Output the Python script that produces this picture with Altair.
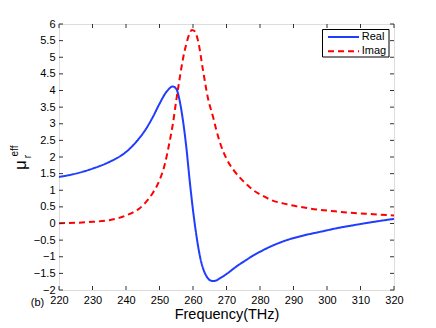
import altair as alt
import pandas as pd

# ---- data ----
freq_real = [220, 225, 230, 235, 240, 243, 246, 248, 250, 252, 254, 255, 256, 257,
             258, 259, 260, 261, 262, 263, 264, 265, 266, 267, 268, 270, 273, 276,
             278, 280, 283, 288, 293, 298, 303, 308, 314, 320]
mu_real = [1.40, 1.50, 1.65, 1.85, 2.15, 2.45, 2.85, 3.20, 3.60, 3.95, 4.12, 4.05,
           3.70, 3.10, 2.30, 1.30, 0.40, -0.35, -0.95, -1.35, -1.58, -1.70, -1.73,
           -1.71, -1.65, -1.52, -1.29, -1.09, -0.96, -0.85, -0.70, -0.50, -0.36,
           -0.25, -0.14, -0.05, 0.05, 0.14]

freq_imag = [220, 225, 230, 235, 238, 240, 242, 244, 246, 248, 250, 251.5, 253, 254,
             255, 256, 257, 258, 259, 259.7, 260.5, 261.5, 263, 264.5, 266, 267, 268,
             270, 272, 274, 276, 278, 280, 283, 288, 295, 303, 312, 320]
mu_imag = [0.01, 0.02, 0.05, 0.10, 0.17, 0.24, 0.33, 0.45, 0.65, 0.92, 1.30, 1.75,
           2.45, 3.00, 3.70, 4.35, 4.95, 5.40, 5.72, 5.82, 5.78, 5.50, 4.60, 3.75,
           3.20, 2.80, 2.45, 1.95, 1.62, 1.38, 1.18, 1.00, 0.88, 0.72, 0.58, 0.45,
           0.36, 0.29, 0.24]

series_names = ["Real", "Imag"]
series_colors = ["#1f3cff", "#ff0000"]
series_dashes = [[1, 0], [6, 4]]
x_ticks = [220, 230, 240, 250, 260, 270, 280, 290, 300, 310, 320]
y_ticks = [-2, -1.5, -1, -0.5, 0, 0.5, 1, 1.5, 2, 2.5, 3, 3.5, 4, 4.5, 5, 5.5, 6]

W, H = 335, 266
FONT = "Liberation Sans"

df = pd.concat([
    pd.DataFrame({"freq": freq_real, "mu": mu_real, "series": "Real", "order": range(len(freq_real))}),
    pd.DataFrame({"freq": freq_imag, "mu": mu_imag, "series": "Imag", "order": range(len(freq_imag))}),
])

xs = alt.Scale(domain=[220, 320], nice=False, zero=False)
ys = alt.Scale(domain=[-2, 6], nice=False, zero=False)

x_axis = alt.Axis(values=x_ticks, title="Frequency(THz)", ticks=False, domain=False,
                  grid=False, labelFont=FONT, labelFontSize=11, labelOverlap=False,
                  labelFlush=False, labelColor="black", labelPadding=4, titleFont=FONT,
                  titleFontSize=14.5, titleFontWeight="normal", titleColor="black",
                  titlePadding=2, format="d")
y_axis = alt.Axis(values=y_ticks, title=None, ticks=False, domain=False, grid=False,
                  labelFont=FONT, labelFontSize=11, labelColor="black", labelFlush=False,
                  labelOverlap=False, labelPadding=4, format=".2~g")

lines = alt.Chart(df).mark_line(strokeWidth=2, interpolate="monotone").encode(
    x=alt.X("freq:Q", scale=xs, axis=x_axis),
    y=alt.Y("mu:Q", scale=ys, axis=y_axis),
    color=alt.Color("series:N", scale=alt.Scale(domain=series_names, range=series_colors),
                    legend=None),
    strokeDash=alt.StrokeDash("series:N", scale=alt.Scale(domain=series_names, range=series_dashes),
                              legend=None),
    order="order:Q",
)

xt = pd.DataFrame({"freq": x_ticks})
yt = pd.DataFrame({"mu": y_ticks})
tick_col = "#333333"
xb = alt.Chart(xt).mark_rule(color=tick_col, strokeWidth=1).encode(
    x=alt.X("freq:Q", scale=xs, axis=x_axis), y=alt.value(H), y2=alt.value(H - 4))
xtop = alt.Chart(xt).mark_rule(color=tick_col, strokeWidth=1).encode(
    x=alt.X("freq:Q", scale=xs, axis=x_axis), y=alt.value(0), y2=alt.value(4))
yl = alt.Chart(yt).mark_rule(color=tick_col, strokeWidth=1).encode(
    y=alt.Y("mu:Q", scale=ys, axis=y_axis), x=alt.value(0), x2=alt.value(4))
yr = alt.Chart(yt).mark_rule(color=tick_col, strokeWidth=1).encode(
    y=alt.Y("mu:Q", scale=ys, axis=y_axis), x=alt.value(W), x2=alt.value(W - 4))

def label(txt, x, y, size, angle=270, baseline="alphabetic", align="center"):
    return alt.Chart(pd.DataFrame({"t": [txt]})).mark_text(
        font=FONT, fontSize=size, color="black", angle=angle,
        align=align, baseline=baseline,
    ).encode(text="t:N", x=alt.value(x), y=alt.value(y))

mu_lbl = label("μ", -33, 141, 17)
r_lbl = label("r", -28, 132.5, 10)
eff_lbl = label("eff", -41, 127, 10)
b_lbl = label("(b)", -21.5, 278.5, 11, angle=0, baseline="middle")

# ---- legend box (drawn by hand, MATLAB style) ----
leg_layers = [
    alt.Chart(pd.DataFrame({"a": [0]})).mark_rect(fill="white", stroke="black", strokeWidth=1).encode(
        x=alt.value(263.5), x2=alt.value(330), y=alt.value(5.5), y2=alt.value(33))
]
row_y = [13, 27.3]
for name, col, dash, ry in zip(series_names, series_colors, series_dashes, row_y):
    leg_layers.append(
        alt.Chart(pd.DataFrame({"s": [name]})).mark_rule(color=col, strokeWidth=2, strokeDash=dash).encode(
            x=alt.value(269), x2=alt.value(300), y=alt.value(ry)))
    leg_layers.append(label(name, 302.7, ry, 11, angle=0, baseline="middle", align="left"))

chart = alt.layer(lines, xb, xtop, yl, yr, mu_lbl, r_lbl, eff_lbl, b_lbl, *leg_layers).properties(
    width=W, height=H,
    autosize=alt.AutoSizeParams(type="none"),
    padding={"left": 51, "top": 16, "right": 34, "bottom": 36},
).configure_view(stroke="black", strokeWidth=1).configure(background="white")

chart.save("out.html", embed_options={"renderer": "svg", "actions": False})
